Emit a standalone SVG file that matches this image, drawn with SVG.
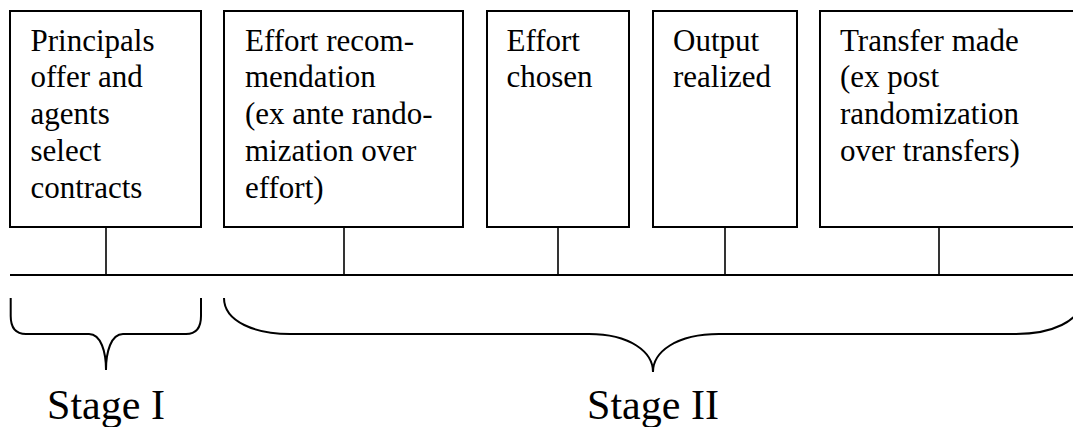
<svg xmlns="http://www.w3.org/2000/svg" width="1073" height="427" viewBox="0 0 1073 427">
<style>
.box{fill:#fff;stroke:#000;stroke-width:2}
.ln{fill:none;stroke:#000;stroke-width:2}
.tk{fill:none;stroke:#000;stroke-width:1.6}
.t{font-size:31px;fill:#000}
.s{font-size:42px;fill:#000;text-anchor:middle}
</style>
<rect width="1073" height="427" fill="#fff"/>
<g id="connectors">
<line class="ln" x1="10" y1="275" x2="1073" y2="275"/>
<line class="tk" x1="106" y1="227" x2="106" y2="275"/>
<line class="tk" x1="344" y1="227" x2="344" y2="275"/>
<line class="tk" x1="558" y1="227" x2="558" y2="275"/>
<line class="tk" x1="725" y1="227" x2="725" y2="275"/>
<line class="tk" x1="939" y1="227" x2="939" y2="275"/>
</g>
<g font-family="'Liberation Serif', 'DejaVu Serif', serif">
<g id="n1">
<rect class="box" x="10" y="11" width="191" height="216"/>
<text class="t"><tspan x="30.5" y="50.7">Principals</tspan><tspan x="30.5" y="87.4">offer and</tspan><tspan x="30.5" y="124.1">agents</tspan><tspan x="30.5" y="160.8">select</tspan><tspan x="30.5" y="197.5">contracts</tspan></text>
</g>
<g id="n2">
<rect class="box" x="224" y="11" width="239" height="216"/>
<text class="t"><tspan x="245" y="50.7">Effort recom-</tspan><tspan x="245" y="87.4">mendation</tspan><tspan x="245" y="124.1">(ex ante rando-</tspan><tspan x="245" y="160.8">mization over</tspan><tspan x="245" y="197.5">effort)</tspan></text>
</g>
<g id="n3">
<rect class="box" x="487" y="11" width="142" height="216"/>
<text class="t"><tspan x="506.5" y="50.7">Effort</tspan><tspan x="506.5" y="87.4">chosen</tspan></text>
</g>
<g id="n4">
<rect class="box" x="653" y="11" width="144" height="216"/>
<text class="t"><tspan x="673" y="50.7">Output</tspan><tspan x="673" y="87.4">realized</tspan></text>
</g>
<g id="n5">
<rect class="box" x="820" y="11" width="270" height="216"/>
<text class="t"><tspan x="840" y="50.7">Transfer made</tspan><tspan x="840" y="87.4">(ex post</tspan><tspan x="840" y="124.1">randomization</tspan><tspan x="840" y="160.8">over transfers)</tspan></text>
</g>
<g id="stage1">
<path class="ln" d="M10.7,298 L10.7,316 C10.7,328 16,334 26,334 L89,334 C101,334 106,352 106,370 C106,352 111,334 123,334 L186,334 C196,334 201,328 201,316 L201,298"/>
<text class="s" x="106" y="419">Stage I</text>
</g>
<g id="stage2">
<path class="ln" d="M224,298 C224,322 256,334 290,334 L589,334 C630,334 653,352 653,372 C653,352 676,334 719,334 L1016,334 C1050,334 1082,322 1082,298"/>
<text class="s" x="653" y="419">Stage II</text>
</g>
</g>
</svg>
